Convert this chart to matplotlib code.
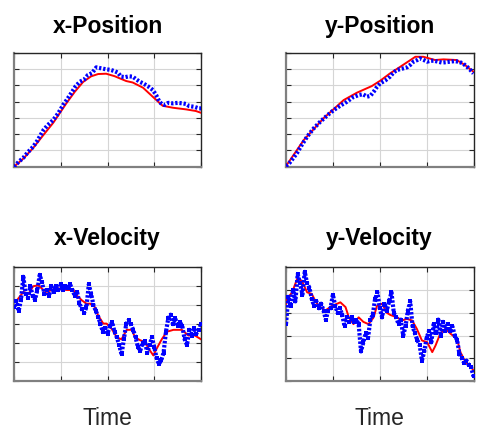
import matplotlib
matplotlib.use("Agg")
import matplotlib.pyplot as plt
import numpy as np

plt.rcParams['font.family'] = ['Liberation Sans', 'DejaVu Sans']

titles = ["x-Position", "y-Position", "x-Velocity", "y-Velocity"]
xlabel_text = "Time"

# ---- x-Position ----
xpos_est_t = [0.0, 0.2, 0.41, 0.63, 0.84, 1.12, 1.30, 1.48, 1.65, 1.80, 1.97, 2.15, 2.40, 2.54, 2.76, 2.97, 3.18, 3.40, 3.68, 3.89, 4.0]
xpos_est_v = [0.0, 0.5, 1.15, 1.95, 2.7, 3.89, 4.6, 5.21, 5.55, 5.69, 5.71, 5.56, 5.26, 5.17, 4.85, 4.29, 3.74, 3.62, 3.52, 3.42, 3.31]
xpos_meas_t = [0.0, 0.05, 0.1, 0.2, 0.3, 0.41, 0.5, 0.63, 0.72, 0.84, 0.95, 1.05, 1.14, 1.23, 1.32, 1.41, 1.50, 1.58, 1.67, 1.76, 1.85, 1.97, 2.06, 2.15, 2.22, 2.29, 2.38, 2.46, 2.54, 2.62, 2.70, 2.76, 2.86, 2.97, 3.04, 3.11, 3.16, 3.22, 3.30, 3.40, 3.50, 3.61, 3.68, 3.75, 3.85, 3.96, 4.0]
xpos_meas_v = [0.0, 0.15, 0.3, 0.55, 0.9, 1.23, 1.6, 2.25, 2.55, 2.87, 3.3, 3.79, 4.15, 4.54, 4.95, 5.22, 5.35, 5.63, 5.75, 6.10, 6.05, 5.98, 5.95, 5.87, 5.78, 5.53, 5.50, 5.55, 5.53, 5.35, 5.20, 5.12, 4.95, 4.71, 4.40, 3.99, 3.85, 3.79, 3.92, 3.89, 3.92, 3.89, 3.85, 3.72, 3.68, 3.58, 3.58]

# ---- y-Position ----
ypos_est_t = [0.0, 0.38, 0.80, 1.23, 1.51, 1.83, 2.01, 2.22, 2.44, 2.76, 2.93, 3.18, 3.36, 3.64, 3.82, 4.0]
ypos_est_v = [0.04, 1.64, 2.97, 4.09, 4.54, 4.95, 5.28, 5.73, 6.14, 6.75, 6.75, 6.55, 6.59, 6.55, 6.24, 5.83]
ypos_meas_t = [0.0, 0.08, 0.16, 0.23, 0.34, 0.45, 0.59, 0.73, 0.88, 1.02, 1.16, 1.30, 1.42, 1.55, 1.64, 1.73, 1.80, 1.87, 1.94, 2.01, 2.12, 2.22, 2.30, 2.37, 2.48, 2.58, 2.65, 2.72, 2.80, 2.86, 2.94, 3.01, 3.08, 3.15, 3.24, 3.33, 3.42, 3.50, 3.59, 3.68, 3.77, 3.86, 3.93, 4.0]
ypos_meas_v = [0.04, 0.25, 0.55, 0.82, 1.35, 1.84, 2.35, 2.76, 3.15, 3.48, 3.75, 3.99, 4.25, 4.40, 4.45, 4.30, 4.35, 4.60, 4.90, 5.12, 5.30, 5.53, 5.80, 5.94, 6.02, 6.10, 6.25, 6.45, 6.55, 6.65, 6.55, 6.45, 6.50, 6.51, 6.45, 6.39, 6.42, 6.45, 6.48, 6.45, 6.35, 6.14, 5.95, 5.73]

# ---- x-Velocity ----
xvel_est_t = [0.0, 0.06, 0.2, 0.31, 0.41, 0.52, 0.63, 0.70, 0.91, 1.13, 1.27, 1.34, 1.45, 1.55, 1.63, 1.73, 1.80, 1.91, 1.98, 2.09, 2.20, 2.30, 2.41, 2.52, 2.59, 2.70, 2.80, 2.91, 2.98, 3.05, 3.16, 3.27, 3.41, 3.59, 3.73, 3.87, 4.0]
xvel_est_v = [4.17, 4.25, 4.7, 4.6, 5.0, 5.05, 4.8, 4.7, 4.9, 4.8, 4.8, 4.52, 4.26, 4.08, 4.08, 3.9, 3.46, 3.03, 3.03, 2.75, 2.3, 2.2, 2.7, 2.7, 2.3, 2.15, 2.05, 1.6, 1.35, 1.7, 2.2, 2.6, 2.7, 2.7, 2.4, 2.4, 2.2]
xvel_meas_v = [3.9, 4.2, 3.7, 4.3, 5.5, 4.6, 4.4, 5.0, 4.5, 4.3,
               4.8, 5.6, 5.2, 4.6, 4.8, 4.5, 5.0, 4.7, 5.0, 4.8,
               5.1, 4.8, 5.0, 4.9, 5.1, 4.8, 4.5, 4.7, 4.1, 3.8,
               3.6, 3.9, 5.1, 4.6, 4.0, 3.7, 3.4, 3.0, 2.6, 2.8,
               2.5, 2.9, 3.1, 2.6, 2.3, 1.9, 1.4, 2.2, 3.0, 3.2,
               3.0, 2.7, 2.3, 1.8, 1.6, 2.0, 2.1, 1.5, 1.9, 2.3,
               1.8, 1.2, 0.9, 1.1, 1.5, 2.6, 3.3, 3.5, 3.0, 3.3,
               2.9, 3.1, 2.9, 2.2, 1.9, 2.7, 2.4, 2.8, 2.5, 2.7, 3.0]

# ---- y-Velocity ----
yvel_est_t = [0.0, 0.02, 0.13, 0.24, 0.34, 0.45, 0.55, 0.63, 0.70, 0.84, 0.98, 1.16, 1.27, 1.34, 1.44, 1.55, 1.65, 1.76, 1.87, 1.94, 2.05, 2.15, 2.23, 2.37, 2.47, 2.58, 2.69, 2.79, 2.90, 3.01, 3.12, 3.19, 3.29, 3.40, 3.51, 3.65, 3.72, 3.83, 3.93, 4.0]
yvel_est_v = [3.4, 3.6, 3.9, 4.5, 4.4, 3.9, 3.83, 3.5, 3.3, 3.1, 3.3, 3.46, 3.25, 2.8, 2.5, 2.8, 2.6, 2.5, 2.8, 3.3, 3.4, 3.0, 2.9, 2.8, 2.66, 2.73, 2.66, 2.3, 1.78, 1.71, 1.27, 1.56, 2.08, 2.3, 2.08, 1.85, 1.27, 0.83, 0.69, 0.45]
yvel_meas_v = [2.5, 3.7, 3.3, 4.0, 3.5, 4.7, 4.3, 3.8, 4.8, 4.3,
               4.1, 3.6, 3.3, 3.5, 3.2, 3.4, 3.1, 2.7, 3.1, 3.2,
               3.8, 3.3, 3.0, 3.2, 2.9, 2.4, 2.8, 2.6, 2.8, 2.6,
               2.7, 2.5, 1.3, 1.7, 2.1, 1.9, 2.7, 2.9, 3.6, 3.9,
               3.2, 2.8, 3.4, 3.1, 3.5, 3.9, 3.0, 2.8, 2.5, 2.7,
               2.0, 2.4, 3.1, 3.5, 2.4, 2.1, 1.8, 1.6, 0.9, 1.3,
               1.9, 2.2, 1.7, 2.5, 2.1, 2.7, 2.0, 2.6, 2.2, 2.5,
               2.2, 2.4, 2.0, 1.8, 1.2, 1.0, 0.8, 0.9, 0.7, 0.6, 0.2]
vel_meas_t = np.linspace(0, 4, len(xvel_meas_v))

panels = [
    (xpos_est_t, xpos_est_v, xpos_meas_t, xpos_meas_v, 7, "pos"),
    (ypos_est_t, ypos_est_v, ypos_meas_t, ypos_meas_v, 7, "pos"),
    (xvel_est_t, xvel_est_v, vel_meas_t, xvel_meas_v, 6, "vel"),
    (yvel_est_t, yvel_est_v, vel_meas_t, yvel_meas_v, 5, "vel"),
]

W, H = 486, 429
fig = plt.figure(figsize=(W / 100, H / 100), dpi=100)

boxes = [(14, 52.7, 201, 166.7), (286, 52.7, 473.5, 166.7),
         (14, 267.3, 201, 381), (286, 267.3, 473.5, 381)]
title_base = [33.3, 33.3, 245, 245]

for i, ((et, ev, mt, mv, ny, kind), (x0, y0, x1, y1)) in enumerate(zip(panels, boxes)):
    ax = fig.add_axes([x0 / W, 1 - y1 / H, (x1 - x0) / W, (y1 - y0) / H])
    ax.plot(et, ev, color='#ff0000', lw=1.4, zorder=3)
    if kind == "pos":
        ax.plot(mt, mv, color='#0000ff', lw=3.0, ls=(0, (0.55, 0.45)), zorder=4)
    else:
        ax.plot(mt, mv, color='#0000ff', lw=3.0, ls=(0, (0.6, 0.4)), zorder=4)
        ax.plot(mt, mv, 's', color='#0000ff', ms=3.4, mew=0, zorder=4)
    ax.set_xlim(0, 4)
    ax.set_ylim(0, ny)
    ax.set_xticks(range(0, 5))
    ax.set_yticks(range(0, ny + 1))
    ax.set_xticklabels([])
    ax.set_yticklabels([])
    ax.tick_params(direction='in', length=3.5, width=0.8, top=True, right=True,
                   colors='#262626')
    ax.grid(True, color='#d5d5d5', lw=0.8)
    ax.set_axisbelow(True)
    for s in ['left', 'bottom']:
        ax.spines[s].set_color('#808080')
        ax.spines[s].set_linewidth(1.6)
    for s in ['top', 'right']:
        ax.spines[s].set_color('#262626')
        ax.spines[s].set_linewidth(1.0)
    cx = (x0 + x1) / 2
    fig.text(cx / W, 1 - title_base[i] / H, titles[i], ha='center', va='baseline',
             fontsize=16.5, fontweight='bold', color='black')
    if i >= 2:
        fig.text(cx / W, 1 - 425 / H, xlabel_text, ha='center', va='baseline',
                 fontsize=16.5, color='#262626')

fig.savefig("out.png", dpi=100)
